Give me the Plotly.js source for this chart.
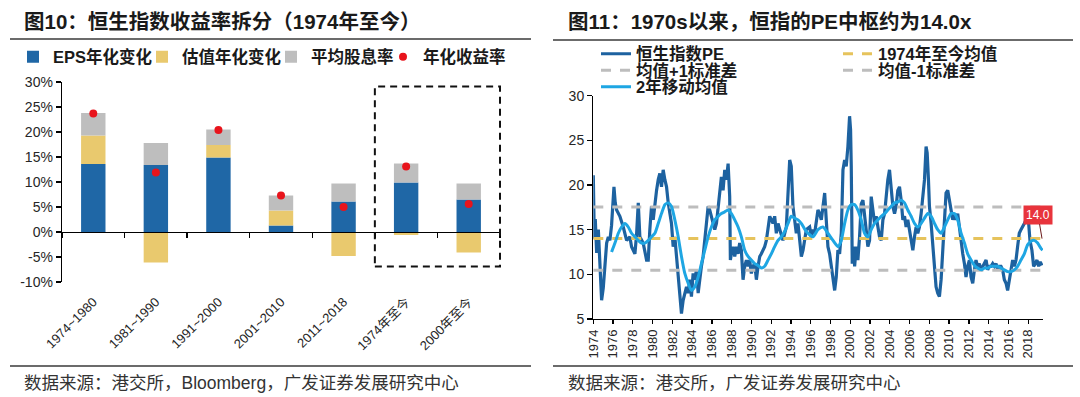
<!DOCTYPE html>
<html>
<head>
<meta charset="utf-8">
<script src="https://cdn.plot.ly/plotly-3.0.1.min.js"></script>
<style>
  html, body { margin: 0; padding: 0; background: #ffffff; }
  #chart { width: 1080px; height: 397px; }
</style>
</head>
<body>
<div id="chart"></div>
<script>
// ---------------- Figure 10 data (percent) ----------------
const periods = ['1974~1980', '1981~1990', '1991~2000', '2001~2010', '2011~2018', '1974年至今', '2000年至今'];
const epsChange = [13.6, 13.4, 14.9, 1.3, 6.1, 9.9, 6.5];
const valuationChange = [5.7, -6.1, 2.5, 3.0, -4.8, -0.6, -4.1];
const dividendYield = [4.5, 4.4, 3.1, 3.0, 3.6, 3.8, 3.2];
const annualReturn = [23.7, 11.9, 20.4, 7.3, 5.0, 13.1, 5.6];
const barSeriesNames = ['EPS年化变化', '估值年化变化', '平均股息率', '年化收益率'];
const leftTickValues = [-10, -5, 0, 5, 10, 15, 20, 25, 30];
const leftTickText = leftTickValues.map(v => v + '%');

// ---------------- Figure 11 data ----------------
const peYear = [1974.00, 1974.10, 1974.20, 1974.34, 1974.51, 1974.67, 1974.84, 1975.01, 1975.18, 1975.35, 1975.52, 1975.68, 1975.85, 1976.09, 1976.22, 1976.36, 1976.69, 1977.03, 1977.37, 1977.70, 1977.87, 1978.21, 1978.38, 1978.55, 1978.71, 1979.05, 1979.39, 1979.56, 1979.72, 1979.89, 1980.06, 1980.23, 1980.40, 1980.57, 1980.73, 1980.90, 1981.07, 1981.24, 1981.41, 1981.58, 1981.74, 1981.91, 1982.08, 1982.25, 1982.42, 1982.59, 1982.75, 1982.92, 1983.09, 1983.26, 1983.43, 1983.60, 1983.76, 1983.93, 1984.10, 1984.27, 1984.44, 1984.61, 1984.77, 1984.94, 1985.11, 1985.28, 1985.45, 1985.62, 1985.78, 1985.95, 1986.12, 1986.29, 1986.46, 1986.63, 1986.79, 1986.96, 1987.13, 1987.30, 1987.47, 1987.64, 1987.80, 1987.87, 1987.97, 1988.14, 1988.31, 1988.48, 1988.65, 1988.81, 1988.98, 1989.15, 1989.32, 1989.49, 1989.66, 1989.82, 1989.99, 1990.16, 1990.33, 1990.50, 1990.67, 1990.84, 1991.00, 1991.17, 1991.34, 1991.51, 1991.68, 1991.85, 1992.01, 1992.18, 1992.35, 1992.52, 1992.69, 1992.86, 1993.19, 1993.53, 1993.70, 1993.87, 1994.03, 1994.20, 1994.37, 1994.54, 1994.71, 1994.88, 1995.05, 1995.22, 1995.39, 1995.55, 1995.89, 1996.06, 1996.23, 1996.40, 1996.73, 1996.90, 1997.07, 1997.24, 1997.41, 1997.57, 1997.74, 1997.91, 1998.08, 1998.25, 1998.42, 1998.58, 1998.75, 1998.92, 1999.09, 1999.26, 1999.43, 1999.59, 1999.76, 1999.93, 2000.03, 2000.10, 2000.20, 2000.33, 2000.44, 2000.60, 2000.77, 2000.94, 2001.11, 2001.28, 2001.45, 2001.61, 2001.78, 2001.95, 2002.12, 2002.29, 2002.46, 2002.62, 2002.96, 2003.13, 2003.30, 2003.47, 2003.63, 2003.80, 2003.97, 2004.14, 2004.31, 2004.48, 2004.64, 2004.81, 2004.98, 2005.15, 2005.32, 2005.49, 2005.65, 2005.82, 2005.99, 2006.16, 2006.33, 2006.50, 2006.66, 2006.83, 2007.00, 2007.17, 2007.34, 2007.51, 2007.67, 2007.78, 2007.91, 2008.01, 2008.18, 2008.35, 2008.52, 2008.68, 2008.85, 2009.02, 2009.19, 2009.36, 2009.53, 2009.69, 2009.86, 2010.03, 2010.20, 2010.37, 2010.54, 2010.70, 2010.87, 2011.04, 2011.21, 2011.38, 2011.55, 2011.71, 2011.88, 2012.05, 2012.22, 2012.39, 2012.56, 2012.72, 2012.89, 2013.06, 2013.23, 2013.40, 2013.57, 2013.74, 2013.90, 2014.07, 2014.24, 2014.41, 2014.58, 2014.75, 2014.91, 2015.08, 2015.25, 2015.42, 2015.59, 2015.76, 2015.92, 2016.09, 2016.26, 2016.43, 2016.60, 2016.77, 2016.93, 2017.10, 2017.27, 2017.44, 2017.61, 2017.78, 2017.94, 2018.05, 2018.18, 2018.38, 2018.55, 2018.72, 2018.89, 2019.06, 2019.22, 2019.39];
const peValue = [21.1, 14.0, 16.2, 12.4, 15.0, 10.5, 7.1, 8.5, 10.9, 13.5, 14.2, 13.8, 15.5, 19.8, 18.0, 17.2, 16.5, 15.3, 13.8, 14.2, 13.1, 12.3, 14.5, 18.0, 14.2, 13.5, 11.6, 11.6, 15.0, 17.6, 16.1, 18.0, 19.4, 20.6, 21.3, 19.8, 21.7, 20.6, 19.8, 18.0, 16.8, 15.7, 13.1, 14.2, 12.0, 10.1, 7.9, 5.6, 7.1, 7.9, 8.6, 7.9, 9.4, 7.5, 10.1, 9.4, 10.5, 7.9, 9.7, 10.9, 12.0, 13.8, 16.1, 17.6, 17.2, 16.5, 15.7, 15.0, 15.7, 17.6, 19.1, 20.9, 19.4, 21.7, 20.6, 22.4, 18.7, 11.6, 12.3, 13.1, 12.0, 13.1, 12.3, 13.5, 12.7, 9.4, 10.9, 11.6, 10.9, 11.6, 10.1, 10.9, 11.2, 9.4, 10.9, 12.0, 12.3, 12.7, 13.1, 13.8, 15.3, 16.5, 16.1, 15.7, 16.5, 14.6, 15.7, 15.0, 13.8, 15.3, 18.7, 22.8, 22.1, 17.6, 16.1, 14.6, 15.7, 14.2, 12.0, 12.7, 14.2, 15.0, 15.3, 14.2, 15.0, 14.6, 17.2, 16.8, 16.1, 17.6, 19.1, 16.1, 13.1, 12.3, 10.9, 9.4, 8.2, 9.7, 12.7, 12.3, 14.6, 21.7, 22.8, 22.1, 24.3, 27.7, 26.2, 22.1, 11.2, 13.1, 10.9, 13.1, 11.6, 14.2, 17.9, 18.3, 16.1, 15.0, 13.1, 13.8, 18.7, 16.8, 15.7, 16.5, 14.2, 13.8, 16.1, 16.8, 19.1, 20.6, 21.7, 19.4, 17.6, 16.8, 17.6, 19.4, 19.8, 18.3, 16.1, 16.5, 15.3, 16.1, 15.0, 13.5, 12.7, 14.2, 15.3, 14.6, 15.3, 16.8, 18.7, 20.6, 24.3, 23.6, 20.6, 17.6, 15.7, 13.5, 10.9, 8.6, 7.9, 7.5, 9.4, 13.1, 16.8, 19.1, 19.4, 18.3, 17.6, 16.1, 16.8, 16.1, 16.8, 15.3, 13.1, 12.3, 11.2, 9.7, 10.9, 11.6, 9.7, 9.0, 10.5, 11.6, 10.9, 11.2, 10.5, 10.9, 11.2, 11.6, 10.5, 10.9, 10.9, 11.2, 10.9, 11.2, 10.5, 10.9, 10.9, 10.5, 9.4, 9.0, 8.2, 9.4, 10.5, 11.6, 10.9, 11.6, 13.1, 14.6, 15.0, 15.3, 15.7, 16.1, 17.6, 15.7, 13.8, 12.7, 10.9, 11.2, 11.6, 10.9, 11.4, 11.0];
const maYear = [1975.85, 1976.19, 1976.53, 1976.86, 1977.20, 1977.54, 1977.87, 1978.21, 1978.55, 1978.88, 1979.22, 1979.56, 1979.89, 1980.23, 1980.57, 1980.90, 1981.24, 1981.58, 1981.91, 1982.25, 1982.59, 1982.92, 1983.26, 1983.60, 1983.93, 1984.27, 1984.61, 1984.94, 1985.28, 1985.62, 1985.95, 1986.29, 1986.63, 1986.96, 1987.30, 1987.64, 1987.97, 1988.31, 1988.65, 1988.98, 1989.32, 1989.66, 1989.99, 1990.33, 1990.67, 1991.00, 1991.34, 1991.68, 1992.01, 1992.35, 1992.69, 1993.02, 1993.36, 1993.70, 1994.03, 1994.37, 1994.71, 1995.04, 1995.55, 1996.23, 1996.73, 1997.24, 1997.74, 1998.25, 1998.75, 1999.09, 1999.43, 1999.76, 2000.10, 2000.44, 2000.77, 2001.11, 2001.45, 2001.78, 2002.12, 2002.46, 2002.79, 2003.13, 2003.47, 2003.80, 2004.14, 2004.48, 2004.81, 2005.15, 2005.49, 2005.82, 2006.16, 2006.50, 2006.83, 2007.17, 2007.51, 2007.84, 2008.18, 2008.52, 2008.85, 2009.19, 2009.53, 2009.86, 2010.20, 2010.54, 2010.87, 2011.21, 2011.55, 2011.88, 2012.22, 2012.56, 2012.89, 2013.23, 2013.57, 2013.90, 2014.24, 2014.58, 2014.91, 2015.25, 2015.59, 2015.92, 2016.26, 2016.60, 2016.93, 2017.27, 2017.61, 2017.94, 2018.28, 2018.62, 2018.96, 2019.29, 2019.46];
const maValue = [12.5, 13.5, 14.6, 15.3, 15.7, 15.3, 14.6, 14.2, 13.8, 13.5, 13.5, 13.8, 14.2, 14.6, 15.7, 16.8, 17.8, 18.0, 17.6, 16.1, 14.2, 12.0, 10.1, 9.0, 8.2, 8.6, 9.7, 11.2, 12.7, 14.2, 15.3, 16.1, 16.5, 16.8, 17.0, 17.2, 16.8, 16.1, 15.3, 14.2, 12.7, 12.0, 11.6, 11.2, 11.0, 10.7, 10.9, 11.6, 12.3, 13.1, 13.8, 14.2, 14.8, 15.7, 16.5, 16.3, 16.1, 15.7, 14.8, 14.2, 15.0, 15.3, 14.6, 13.8, 13.1, 13.8, 15.7, 17.2, 17.8, 17.8, 17.2, 16.1, 14.6, 14.2, 15.0, 15.7, 16.1, 16.5, 16.8, 17.2, 17.6, 18.0, 18.1, 18.3, 18.0, 17.2, 16.5, 15.7, 15.3, 15.7, 16.3, 16.8, 16.5, 15.7, 15.0, 14.6, 15.3, 16.1, 16.8, 16.8, 16.1, 14.6, 13.5, 12.3, 11.6, 11.0, 10.7, 10.5, 10.7, 10.7, 10.9, 10.9, 10.9, 10.7, 10.5, 10.3, 10.3, 10.5, 10.9, 11.6, 12.3, 13.3, 13.7, 13.8, 13.5, 12.9, 12.7];
const peMean = 14.0;
const peStd = 3.55;
const peSpan = [1974, 2019.45];
const peSeriesNames = ['恒生指数PE', '1974年至今均值', '均值+1标准差', '均值-1标准差', '2年移动均值'];

// ---------------- styling ----------------
const FONT = '"Liberation Sans", Arial, "Noto Sans CJK SC", sans-serif';
const TXT = '#262626';
const C_EPS = '#1F67A6', C_VAL = '#E9C96E', C_DIV = '#BEBEBE', C_RET = '#E8141C';
const C_PE = '#1D62A0', C_MA = '#1EA6E3', C_MEAN = '#E6C35C', C_BAND = '#BDBDBD';

const W = 1080, H = 397;
const px = v => v / W;            // x pixel -> paper
const py = v => 1 - v / H;        // y pixel (from top) -> paper

const leftY = [py(282), py(82)];
const rightY = [py(319), py(95.7)];
const yMin = -10, yMax = 30;
const zeroPos = leftY[0] + (0 - yMin) / (yMax - yMin) * (leftY[1] - leftY[0]);

const traces = [
  { type: 'bar', x: periods, y: epsChange, name: barSeriesNames[0], marker: { color: C_EPS }, width: 0.39, xaxis: 'x', yaxis: 'y', legend: 'legend' },
  { type: 'bar', x: periods, y: valuationChange, name: barSeriesNames[1], marker: { color: C_VAL }, width: 0.39, xaxis: 'x', yaxis: 'y', legend: 'legend2' },
  { type: 'bar', x: periods, y: dividendYield, name: barSeriesNames[2], marker: { color: C_DIV }, width: 0.39, xaxis: 'x', yaxis: 'y', legend: 'legend3' },
  { type: 'scatter', mode: 'markers', x: periods, y: annualReturn, name: barSeriesNames[3], marker: { color: C_RET, size: 8 }, xaxis: 'x', yaxis: 'y', legend: 'legend4' },

  { type: 'scatter', mode: 'lines', x: peYear, y: peValue, name: peSeriesNames[0], line: { color: C_PE, width: 3.2 }, xaxis: 'x2', yaxis: 'y2', legend: 'legend5' },
  { type: 'scatter', mode: 'lines', x: peSpan, y: peSpan.map(() => peMean), name: peSeriesNames[1], line: { color: C_MEAN, width: 3, dash: '10px,9px' }, xaxis: 'x2', yaxis: 'y2', legend: 'legend6' },
  { type: 'scatter', mode: 'lines', x: peSpan, y: peSpan.map(() => peMean + peStd), name: peSeriesNames[2], line: { color: C_BAND, width: 3, dash: '10px,9px' }, xaxis: 'x2', yaxis: 'y2', legend: 'legend7' },
  { type: 'scatter', mode: 'lines', x: peSpan, y: peSpan.map(() => peMean - peStd), name: peSeriesNames[3], line: { color: C_BAND, width: 3, dash: '10px,9px' }, xaxis: 'x2', yaxis: 'y2', legend: 'legend8' },
  { type: 'scatter', mode: 'lines', x: maYear, y: maValue, name: peSeriesNames[4], line: { color: C_MA, width: 3, shape: 'spline', smoothing: 0.6 }, xaxis: 'x2', yaxis: 'y2', legend: 'legend9' }
];

const tickFont = { family: FONT, size: 14, color: TXT };
const legendFont = { family: FONT, size: 16.5, color: '#1a1a1a', weight: 'bold' };
const mkLegend = (xPix, yPix) => ({
  x: px(xPix), y: py(yPix), xanchor: 'left', yanchor: 'middle', orientation: 'v',
  font: legendFont, bgcolor: 'rgba(0,0,0,0)', borderwidth: 0, itemwidth: 30
});

const layout = {
  width: W, height: H,
  margin: { l: 0, r: 0, t: 0, b: 0 },
  paper_bgcolor: '#ffffff', plot_bgcolor: 'rgba(0,0,0,0)',
  barmode: 'relative',
  showlegend: true,
  hovermode: false,
  xaxis: {
    domain: [px(62), px(501)], anchor: 'free', position: zeroPos,
    type: 'category', showline: true, linecolor: '#000', linewidth: 1.3,
    ticks: 'outside', tickson: 'boundaries', ticklen: 5, tickcolor: '#000', tickwidth: 1.3,
    tickangle: -45, tickfont: { family: FONT, size: 13, color: TXT }, ticklabelstandoff: 56,
    showgrid: false, zeroline: false, fixedrange: true
  },
  yaxis: {
    domain: leftY, anchor: 'x', range: [yMin, yMax], tickmode: 'array', tickvals: leftTickValues, ticktext: leftTickText,
    showline: true, linecolor: '#000', linewidth: 1.3, ticks: 'outside', ticklen: 5, tickcolor: '#000', tickwidth: 1.3,
    tickfont: tickFont, showgrid: false, zeroline: false, fixedrange: true
  },
  xaxis2: {
    domain: [px(593.3), px(1043)], anchor: 'y2', range: [1974, 2019.5],
    tick0: 1974, dtick: 2, tickformat: 'd', tickangle: -90,
    showline: true, linecolor: '#000', linewidth: 1.3, ticks: 'outside', ticklen: 4, tickcolor: '#000', tickwidth: 1.3,
    tickfont: { family: FONT, size: 13, color: TXT }, showgrid: false, zeroline: false, fixedrange: true
  },
  yaxis2: {
    domain: rightY, anchor: 'x2', range: [5, 30], dtick: 5,
    showline: true, linecolor: '#000', linewidth: 1.3, ticks: 'outside', ticklen: 5, tickcolor: '#000', tickwidth: 1.3,
    tickfont: tickFont, showgrid: false, zeroline: false, fixedrange: true
  },
  legend: mkLegend(13, 57),
  legend2: mkLegend(142, 57),
  legend3: mkLegend(271, 57),
  legend4: mkLegend(383, 57),
  legend5: mkLegend(596, 54),
  legend6: mkLegend(838, 54),
  legend7: mkLegend(596, 70.5),
  legend8: mkLegend(838, 70.5),
  legend9: mkLegend(596, 87),
  shapes: [
    { type: 'rect', xref: 'x', yref: 'y', x0: 4.5, x1: 6.5, y0: -6.9, y1: 29.1, line: { color: '#111', width: 2, dash: '7px,5px' }, fillcolor: 'rgba(0,0,0,0)', layer: 'above' },
    { type: 'line', xref: 'paper', yref: 'paper', x0: px(10), x1: px(531), y0: py(39), y1: py(39), line: { color: '#3a3a3a', width: 1.5 } },
    { type: 'line', xref: 'paper', yref: 'paper', x0: px(553), x1: px(1073), y0: py(40), y1: py(40), line: { color: '#3a3a3a', width: 1.5 } },
    { type: 'line', xref: 'paper', yref: 'paper', x0: px(10), x1: px(531), y0: py(366), y1: py(366), line: { color: '#3a3a3a', width: 1.5 } },
    { type: 'line', xref: 'paper', yref: 'paper', x0: px(553), x1: px(1073), y0: py(366), y1: py(366), line: { color: '#3a3a3a', width: 1.5 } }
  ],
  annotations: [
    { xref: 'paper', yref: 'paper', x: px(22), y: py(22), xanchor: 'left', yanchor: 'middle', showarrow: false,
      text: '图10：恒生指数收益率拆分（1974年至今）', font: { family: FONT, size: 20.5, color: '#1a1a1a', weight: 'bold' } },
    { xref: 'paper', yref: 'paper', x: px(566), y: py(22), xanchor: 'left', yanchor: 'middle', showarrow: false,
      text: '图11：1970s以来，恒指的PE中枢约为14.0x', font: { family: FONT, size: 20.5, color: '#1a1a1a', weight: 'bold' } },
    { xref: 'paper', yref: 'paper', x: px(22), y: py(383), xanchor: 'left', yanchor: 'middle', showarrow: false,
      text: '数据来源：港交所，Bloomberg，广发证券发展研究中心', font: { family: FONT, size: 17.5, color: '#333' } },
    { xref: 'paper', yref: 'paper', x: px(566), y: py(383), xanchor: 'left', yanchor: 'middle', showarrow: false,
      text: '数据来源：港交所，广发证券发展研究中心', font: { family: FONT, size: 17.5, color: '#333' } },
    { xref: 'x2', yref: 'y2', x: peSpan[1] - 0.05, y: peMean, text: peMean.toFixed(1),
      showarrow: true, arrowhead: 0, arrowwidth: 1, arrowcolor: '#6b1a1a', ax: -4, ay: -24,
      bgcolor: '#E8343C', borderpad: 2, font: { family: FONT, size: 12, color: '#ffffff' } }
  ]
};

Plotly.newPlot('chart', traces, layout, { staticPlot: true, displayModeBar: false });
</script>
</body>
</html>
